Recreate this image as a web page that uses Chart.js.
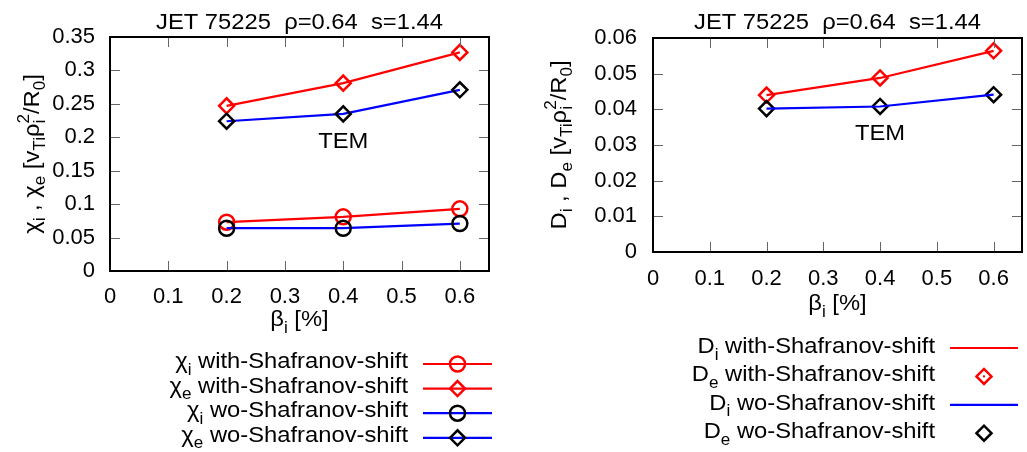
<!DOCTYPE html>
<html>
<head>
<meta charset="utf-8">
<script src="https://cdn.jsdelivr.net/npm/chart.js@4.4.1/dist/chart.umd.min.js"></script>
<style>
html,body{margin:0;padding:0;background:#fff;overflow:hidden;width:1027px;height:452px;}
canvas{position:absolute;top:0;}
#left{left:0;}
#right{left:520px;}
</style>
</head>
<body>
<canvas id="left" width="520" height="452"></canvas>
<canvas id="right" width="512" height="452"></canvas>
<script>
// values
const betaI=[0.2,0.4,0.6];
const chiIWith=[0.073,0.081,0.093];
const chiEWith=[0.247,0.281,0.327];
const chiIWo=[0.064,0.064,0.071];
const chiEWo=[0.224,0.235,0.271];
const diWith=[0.044,0.0488,0.0564];
const deWith=[0.044,0.0488,0.0564];
const diWo=[0.0402,0.0408,0.0441];
const deWo=[0.0402,0.0408,0.0441];

const xTicks=[0,0.1,0.2,0.3,0.4,0.5,0.6];
const chiTicks=[0,0.05,0.1,0.15,0.2,0.25,0.3,0.35];
const dTicks=[0,0.01,0.02,0.03,0.04,0.05,0.06];

const titleText=[["JET 75225  ρ=0.64  s=1.44"]];
const xTitle=[["β"],["i","sub"],[" [%]"]];
const chiTitle=[["χ"],["i","sub"],[" , χ"],["e","sub"],[" [v"],["Ti","sub"],["ρ"],["i","sub","2"],["/R"],["0","sub"],["]"]];
const dTitle=[["D"],["i","sub"],[" , D"],["e","sub"],[" [v"],["Ti","sub"],["ρ"],["i","sub","2"],["/R"],["0","sub"],["]"]];
const chiLabels=[
  [["χ"],["i","sub"],[" with-Shafranov-shift"]],
  [["χ"],["e","sub"],[" with-Shafranov-shift"]],
  [["χ"],["i","sub"],[" wo-Shafranov-shift"]],
  [["χ"],["e","sub"],[" wo-Shafranov-shift"]]
];
const dLabels=[
  [["D"],["i","sub"],[" with-Shafranov-shift"]],
  [["D"],["e","sub"],[" with-Shafranov-shift"]],
  [["D"],["i","sub"],[" wo-Shafranov-shift"]],
  [["D"],["e","sub"],[" wo-Shafranov-shift"]]
];

const FONT='"Liberation Sans", Arial, sans-serif';
const SX=1.08;
const RED='#ff0000', BLUE='#0000ff', BLACK='#000000';

function pts(xs,ys){return xs.map((x,i)=>({x:x,y:ys[i]}));}
function fmt(v){return String(parseFloat(Number(v).toFixed(3)));}

function richWidth(ctx,parts,size){
  let w=0;
  parts.forEach(p=>{
    if(p[1]==="sub"||p[1]==="sup"){
      ctx.font=(size*0.72)+"px "+FONT;
      let a=ctx.measureText(p[0]).width;
      if(p[2]) a=Math.max(a,ctx.measureText(p[2]).width);
      w+=a;
    } else {
      ctx.font=size+"px "+FONT;
      w+=ctx.measureText(p[0]).width;
    }
  });
  return w;
}

// y is the baseline
function drawRich(ctx,parts,x,y,size,align){
  ctx.save();
  ctx.translate(x,y);
  ctx.scale(SX,1);
  ctx.textAlign="left";
  ctx.textBaseline="alphabetic";
  ctx.fillStyle="#000";
  let w=richWidth(ctx,parts,size);
  let cx=align==="center"?-w/2:(align==="right"?-w:0);
  parts.forEach(p=>{
    if(p[1]==="sub"){
      ctx.font=(size*0.72)+"px "+FONT;
      ctx.fillText(p[0],cx,size*0.3);
      let a=ctx.measureText(p[0]).width;
      if(p[2]){ctx.fillText(p[2],cx,-size*0.45);a=Math.max(a,ctx.measureText(p[2]).width);}
      cx+=a;
    } else {
      ctx.font=size+"px "+FONT;
      ctx.fillText(p[0],cx,0);
      cx+=ctx.measureText(p[0]).width;
    }
  });
  ctx.restore();
}

function marker(ctx,style,x,y,r,color,dot){
  ctx.save();
  ctx.strokeStyle=color;ctx.lineWidth=2.5;
  ctx.beginPath();
  if(style==="circle") ctx.arc(x,y,r,0,Math.PI*2);
  else {ctx.moveTo(x-r,y);ctx.lineTo(x,y-r);ctx.lineTo(x+r,y);ctx.lineTo(x,y+r);ctx.closePath();}
  ctx.stroke();
  if(dot){ctx.fillStyle=color;ctx.fillRect(x-1,y-1,2,2);}
  ctx.restore();
}

// frame, inward ticks, titles, TEM label and legend
const decor={
  id:"decor",
  afterDraw(chart){
    const d=chart.options.plugins.decor;
    const ctx=chart.ctx, a=chart.chartArea;
    const xs=chart.scales.x, ys=chart.scales.y;
    ctx.save();
    ctx.strokeStyle="#666";ctx.lineWidth=1;
    ctx.beginPath();
    xs.ticks.forEach(t=>{
      let px=Math.round(xs.getPixelForValue(t.value))+0.5;
      ctx.moveTo(px,a.bottom);ctx.lineTo(px,a.bottom-10);
      ctx.moveTo(px,a.top);ctx.lineTo(px,a.top+10);
    });
    ys.ticks.forEach(t=>{
      let py=Math.round(ys.getPixelForValue(t.value))+0.5;
      ctx.moveTo(a.left,py);ctx.lineTo(a.left+10,py);
      ctx.moveTo(a.right,py);ctx.lineTo(a.right-10,py);
    });
    ctx.stroke();
    ctx.strokeStyle="#000";ctx.lineWidth=2;
    ctx.strokeRect(a.left,a.top,a.right-a.left,a.bottom-a.top);
    ctx.restore();

    const cxp=(a.left+a.right)/2;
    drawRich(ctx,titleText,cxp,d.titleY,22,"center");
    drawRich(ctx,xTitle,cxp,d.xTitleY,22,"center");
    ctx.save();
    ctx.translate(d.yTitleX,(a.top+a.bottom)/2);
    ctx.rotate(-Math.PI/2);
    drawRich(ctx,d.yTitle,0,22*0.35,22,"center");
    ctx.restore();
    drawRich(ctx,[["TEM"]],xs.getPixelForValue(d.tem[0]),ys.getPixelForValue(d.tem[1]),22,"center");

    const L=d.legend;
    d.labels.forEach((parts,i)=>{
      const ds=chart.data.datasets[L.items[i]];
      const y=L.y0+i*L.dy;
      drawRich(ctx,parts,L.textRight,y+L.base,22,"right");
      if(ds.showLine!==false){
        ctx.save();ctx.strokeStyle=ds.borderColor;ctx.lineWidth=ds.borderWidth;
        ctx.beginPath();ctx.moveTo(L.x1,y);ctx.lineTo(L.x2,y);ctx.stroke();ctx.restore();
      }
      if(ds.pointRadius>0) marker(ctx,ds.pointStyle,(L.x1+L.x2)/2,y,ds.pointRadius,ds.pointBorderColor,L.dot===i);
    });
  }
};

function series(data,line,ptColor,style,order,showPts,showLine){
  return {data:data,borderColor:line,borderWidth:2.2,showLine:showLine,
    pointStyle:style,pointRadius:showPts?7.5:0,pointBorderColor:ptColor,pointBorderWidth:2.5,
    pointBackgroundColor:"rgba(0,0,0,0)",order:order,tension:0};
}

function axes(yMin,yMax,yTicks,yWidth,xPad,yPad){
  const tf={family:FONT,size:22};
  return {
    x:{type:"linear",min:0,max:0.65,
      afterBuildTicks:s=>{s.ticks=xTicks.map(v=>({value:v}));},
      afterFit:s=>{s.height=60;},
      grid:{display:false,drawTicks:false},border:{display:false},
      ticks:{font:tf,color:"#000",padding:xPad,maxRotation:0,autoSkip:false,callback:v=>fmt(v)}},
    y:{type:"linear",min:yMin,max:yMax,
      afterBuildTicks:s=>{s.ticks=yTicks.map(v=>({value:v}));},
      afterFit:s=>{s.width=yWidth;},
      grid:{display:false,drawTicks:false},border:{display:false},
      ticks:{font:tf,color:"#000",padding:yPad,autoSkip:false,callback:v=>fmt(v)}}
  };
}

new Chart(document.getElementById("left"),{
  type:"line",
  data:{datasets:[
    series(pts(betaI,chiIWith),RED,RED,"circle",2,true,true),
    series(pts(betaI,chiEWith),RED,RED,"rectRot",2,true,true),
    series(pts(betaI,chiIWo),BLUE,BLACK,"circle",1,true,true),
    series(pts(betaI,chiEWo),BLUE,BLACK,"rectRot",1,true,true)
  ]},
  options:{
    responsive:false,animation:false,devicePixelRatio:1,
    layout:{padding:{left:0,top:37,right:31,bottom:121}},
    scales:axes(0,0.35,chiTicks,110,13,15),
    plugins:{legend:{display:false},tooltip:{enabled:false},
      decor:{titleY:29,xTitleY:326,yTitleX:31,yTitle:chiTitle,tem:[0.4,0.184],labels:chiLabels,
        legend:{items:[0,1,2,3],y0:364,dy:24.6,base:4,textRight:408,x1:423,x2:492,dot:-1}}}
  },
  plugins:[decor]
});

new Chart(document.getElementById("right"),{
  type:"line",
  data:{datasets:[
    series(pts(betaI,diWith),RED,RED,"rectRot",2,false,true),
    series(pts(betaI,deWith),RED,RED,"rectRot",2,true,false),
    series(pts(betaI,diWo),BLUE,BLACK,"rectRot",1,false,true),
    series(pts(betaI,deWo),BLUE,BLACK,"rectRot",1,true,false)
  ]},
  options:{
    responsive:false,animation:false,devicePixelRatio:1,
    layout:{padding:{left:0,top:38,right:0,bottom:140}},
    scales:axes(0,0.06,dTicks,133,14,16),
    plugins:{legend:{display:false},tooltip:{enabled:false},
      decor:{titleY:29,xTitleY:310,yTitleX:38,yTitle:dTitle,tem:[0.4,0.0315],labels:dLabels,
        legend:{items:[0,1,2,3],y0:348,dy:28.4,base:5,textRight:415,x1:430,x2:498,dot:1}}}
  },
  plugins:[decor]
});
</script>
</body>
</html>
